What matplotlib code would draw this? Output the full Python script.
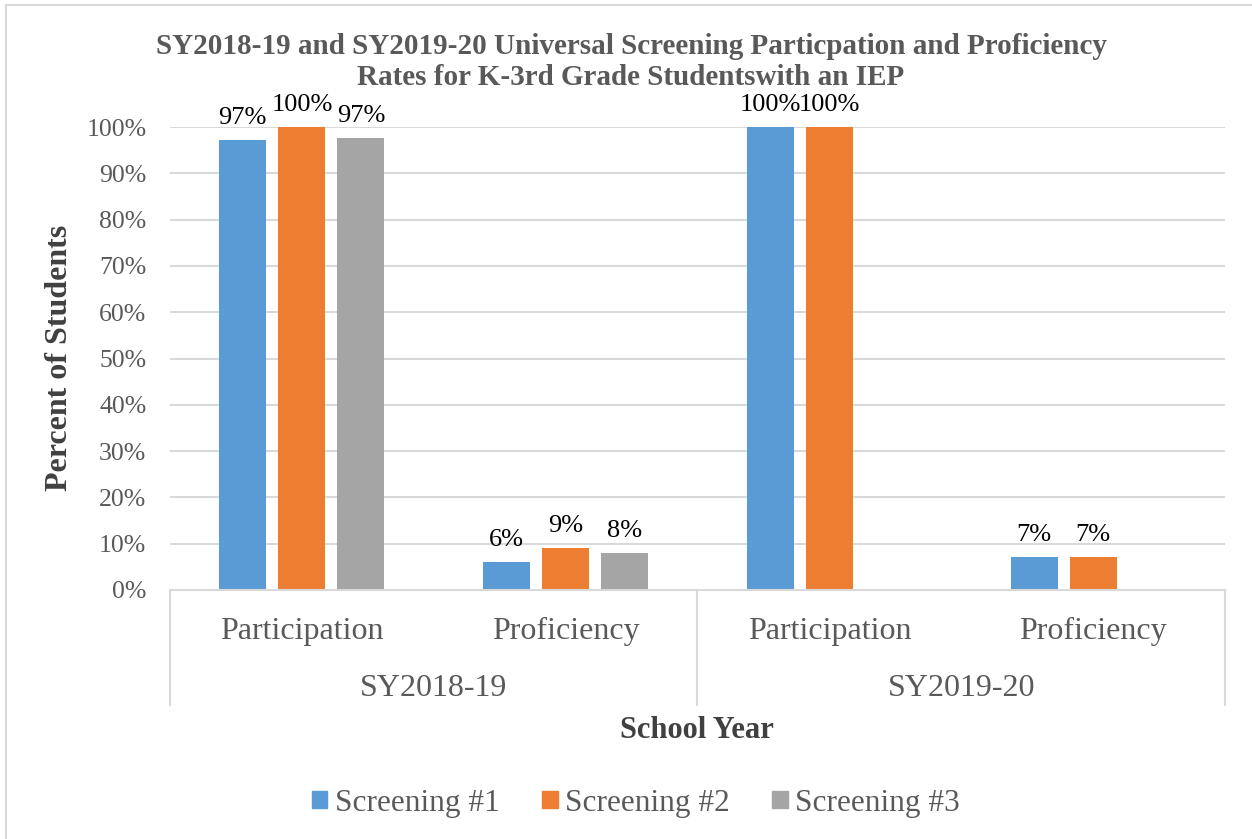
import numpy as np
import matplotlib
matplotlib.use("Agg")
import matplotlib.pyplot as plt
from matplotlib.lines import Line2D
from matplotlib.patches import Patch

plt.rcParams["font.family"] = ["Liberation Serif", "DejaVu Serif"]

# data
years = ["SY2018-19", "SY2019-20"]
measures = ["Participation", "Proficiency"]
series = ["Screening #1", "Screening #2", "Screening #3"]
screening1 = [97.2, 6.0, 100.0, 7.1]
screening2 = [100.0, 9.1, 100.0, 7.1]
screening3 = [97.6, 8.0, None, None]
label_text = {
    "Screening #1": ["97%", "6%", "100%", "7%"],
    "Screening #2": ["100%", "9%", "100%", "7%"],
    "Screening #3": ["97%", "8%", "", ""],
}
colors = ["#5B9BD5", "#ED7D31", "#A5A5A5"]
yticks = list(range(0, 101, 10))

txt_gray = "#595959"
line_gray = "#D9D9D9"

fig = plt.figure(figsize=(12.52, 8.39), dpi=100)
W, H = 1252, 839
ax = fig.add_axes([170 / W, 1 - 590 / H, (1225 - 170) / W, (590 - 127) / H])

##### bars ########
x = np.arange(len(years) * len(measures))
width = 0.178
step = 0.224
all_vals = [screening1, screening2, screening3]
for i, (name, vals) in enumerate(zip(series, all_vals)):
    for j, v in enumerate(vals):
        if v is None:
            continue
        ax.bar(x[j] + (i - 1) * step, v, width=width, color=colors[i], zorder=3)
        ax.annotate(label_text[name][j], (x[j] + (i - 1) * step, v),
                    xytext=(0, 8), textcoords="offset points",
                    ha="center", va="bottom", fontsize=19, color="black")

##### axes styling ########
ax.set_xlim(-0.5, 3.5)
ax.set_ylim(0, 100)
ax.set_yticks(yticks)
ax.set_yticklabels([f"{t}%" for t in yticks])
ax.tick_params(axis="y", length=0, pad=17, labelsize=18.5, labelcolor=txt_gray)
ax.set_xticks([])
for s in ax.spines.values():
    s.set_visible(False)
for t in yticks[1:]:
    ax.axhline(t, color=line_gray, lw=1.5, zorder=1)

# category axis box
def fline(x0, y0, x1, y1):
    fig.add_artist(Line2D([x0 / W, x1 / W], [1 - y0 / H, 1 - y1 / H],
                          color=line_gray, lw=1.5))

fline(170, 590, 1225, 590)
for xp in (170, 697, 1225):
    fline(xp, 590, xp, 705)

k = 0
for yi, yr in enumerate(years):
    for m in measures:
        ax.text(x[k], (590 - 631) / 463, m, transform=ax.get_xaxis_transform(),
                ha="center", va="center", fontsize=23, color=txt_gray)
        k += 1
    ax.text((x[2 * yi] + x[2 * yi + 1]) / 2, (590 - 688) / 463, yr,
            transform=ax.get_xaxis_transform(), ha="center", va="center",
            fontsize=23, color=txt_gray)

##### titles ########
fig.text(631 / W, 1 - 62 / H,
         "SY2018-19 and SY2019-20 Universal Screening Particpation and Proficiency\nRates for K-3rd Grade Studentswith an IEP",
         ha="center", va="center", fontsize=21, fontweight="bold", color=txt_gray,
         linespacing=1.2)
fig.text(60 / W, 1 - 358 / H, "Percent of Students", rotation=90, ha="center",
         va="center", fontsize=23, fontweight="bold", color="#404040")
fig.text(697 / W, 1 - 730 / H, "School Year", ha="center", va="center",
         fontsize=22, fontweight="bold", color="#404040")

##### legend ########
handles = [Patch(color=c, label=s) for c, s in zip(colors, series)]
fig.legend(handles=handles, loc="center", bbox_to_anchor=(636 / W, 1 - 803 / H),
           ncol=3, frameon=False, fontsize=22.5, labelcolor=txt_gray,
           handlelength=0.5, handleheight=0.5, handletextpad=0.25, columnspacing=1.34)

# outer frame
fline(6, 5, 6, 839)
fline(6, 5, 1252, 5)

fig.savefig("out.png", dpi=100)
